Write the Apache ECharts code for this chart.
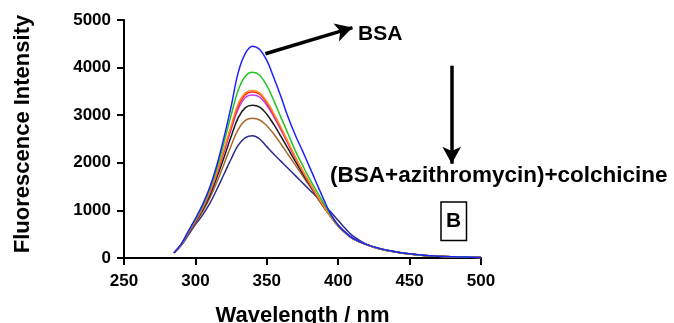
<!DOCTYPE html>
<html>
<head>
<meta charset="utf-8">
<script src="https://cdn.jsdelivr.net/npm/echarts@6/dist/echarts.min.js"></script>
<style>html,body{margin:0;padding:0;background:#fff}#c{width:674px;height:323px}</style>
</head>
<body>
<div id="c"></div>
<script>
const wavelengths = [285,290,295,300,305,310,315,320,325,330,335,340,345,350,355,360,365,370,375,380,385,390,395,400,405,410,420,430,440,450,460,470,480,490,500];
const navy    = [110,260,480,700,900,1140,1440,1760,2080,2370,2530,2570,2500,2340,2180,2030,1880,1730,1580,1430,1280,1120,960,790,620,470,285,185,125,82,52,36,25,17,12];
const brown   = [110,270,505,735,970,1250,1590,1970,2360,2700,2890,2935,2900,2780,2600,2390,2170,1950,1730,1510,1280,1060,870,690,540,415,278,185,128,84,53,37,26,18,12];
const black   = [110,275,520,760,1010,1310,1690,2110,2550,2950,3160,3210,3170,3020,2800,2550,2290,2030,1780,1540,1300,1070,860,675,530,412,278,186,128,84,53,37,26,18,12];
const magenta = [110,278,530,775,1040,1360,1760,2220,2700,3130,3370,3424,3380,3210,2960,2680,2390,2090,1820,1560,1310,1080,860,670,525,410,278,187,129,84,53,37,26,18,12];
const red     = [110,279,535,782,1050,1375,1780,2250,2740,3190,3430,3485,3440,3260,3000,2715,2415,2110,1835,1575,1320,1080,860,670,525,410,279,188,130,85,54,37,26,18,12];
const orange  = [110,280,540,790,1060,1390,1800,2280,2780,3240,3470,3520,3470,3290,3030,2740,2430,2120,1840,1580,1325,1085,860,670,525,410,279,189,130,85,54,37,26,18,12];
const green   = [110,285,550,810,1090,1440,1880,2420,3000,3530,3820,3900,3840,3620,3300,2950,2600,2250,1950,1660,1400,1150,890,680,530,415,280,190,131,86,55,38,27,19,13];
const blue    = [110,290,560,830,1120,1480,1950,2530,3180,3900,4300,4450,4380,4150,3780,3380,2950,2580,2250,1910,1560,1220,910,690,540,420,282,192,132,87,56,38,27,19,13];
const xTicks = [250,300,350,400,450,500];
const yTicks = [0,1000,2000,3000,4000,5000];

const FONT = "'Liberation Sans', Arial, sans-serif";
const pairs = arr => wavelengths.map((w,i) => [w, arr[i]]);
const seriesDefs = [
  ['navy', navy, '#2b2b8c'],
  ['brown', brown, '#a8692c'],
  ['black', black, '#1a1a1a'],
  ['magenta', magenta, '#c33cf0'],
  ['red', red, '#ff2020'],
  ['orange', orange, '#ff8a1e'],
  ['green', green, '#22c422'],
  ['blue', blue, '#2020ff']
];

const chart = echarts.init(document.getElementById('c'));
const series = seriesDefs.map(([name, arr, color]) => ({
  name, type: 'line', data: pairs(arr), smooth: 0.4, symbol: 'none',
  lineStyle: { color, width: 1.5 }, itemStyle: { color }, z: 2
}));
series[series.length - 1].markLine = {
  silent: true, symbol: ['none', 'arrow'], symbolSize: [14, 17],
  label: { show: false },
  lineStyle: { color: '#000', width: 3.5, type: 'solid' },
  data: [
    [{ coord: [349, 4290] }, { coord: [410, 4840] }],
    [{ coord: [479.5, 4040] }, { coord: [479.5, 1980] }]
  ]
};

chart.setOption({
  animation: false,
  grid: { left: 124, right: 193, top: 20, bottom: 65, containLabel: false, outerBoundsMode: 'none' },
  xAxis: {
    type: 'value', min: xTicks[0], max: xTicks[xTicks.length-1], interval: 50,
    name: 'Wavelength / nm', nameLocation: 'middle', nameGap: 47,
    nameTextStyle: { fontFamily: FONT, fontWeight: 'bold', fontSize: 22, color: '#000' },
    axisLine: { lineStyle: { color: '#000', width: 2 } },
    axisTick: { length: 7, lineStyle: { color: '#000', width: 2 } },
    axisLabel: { fontFamily: FONT, fontWeight: 'bold', fontSize: 17, color: '#000', margin: 15 },
    splitLine: { show: false }
  },
  yAxis: {
    type: 'value', min: yTicks[0], max: yTicks[yTicks.length-1], interval: 1000,
    name: 'Fluorescence Intensity', nameLocation: 'middle', nameGap: 90,
    nameTextStyle: { fontFamily: FONT, fontWeight: 'bold', fontSize: 22, color: '#000', padding: [0,0,0,10] },
    axisLine: { show: true, lineStyle: { color: '#000', width: 2 } },
    axisTick: { show: true, length: 7, lineStyle: { color: '#000', width: 2 } },
    axisLabel: { fontFamily: FONT, fontWeight: 'bold', fontSize: 17, color: '#000', margin: 13, formatter: v => String(v) },
    splitLine: { show: false }
  },
  graphic: [
    { type: 'text', left: 358, top: 24, style: { text: 'BSA', fontFamily: FONT, fontWeight: 'bold', fontSize: 21, fill: '#000' } },
    { type: 'text', left: 330, top: 164, style: { text: '(BSA+azithromycin)+colchicine', fontFamily: FONT, fontWeight: 'bold', fontSize: 22.5, fill: '#000' } },
    { type: 'rect', shape: { x: 441, y: 202, width: 25.5, height: 38.5 }, style: { fill: 'none', stroke: '#000', lineWidth: 1.5 } },
    { type: 'text', left: 446, top: 211, style: { text: 'B', fontFamily: FONT, fontWeight: 'bold', fontSize: 21, fill: '#000' } }
  ],
  series
});
</script>
</body>
</html>
